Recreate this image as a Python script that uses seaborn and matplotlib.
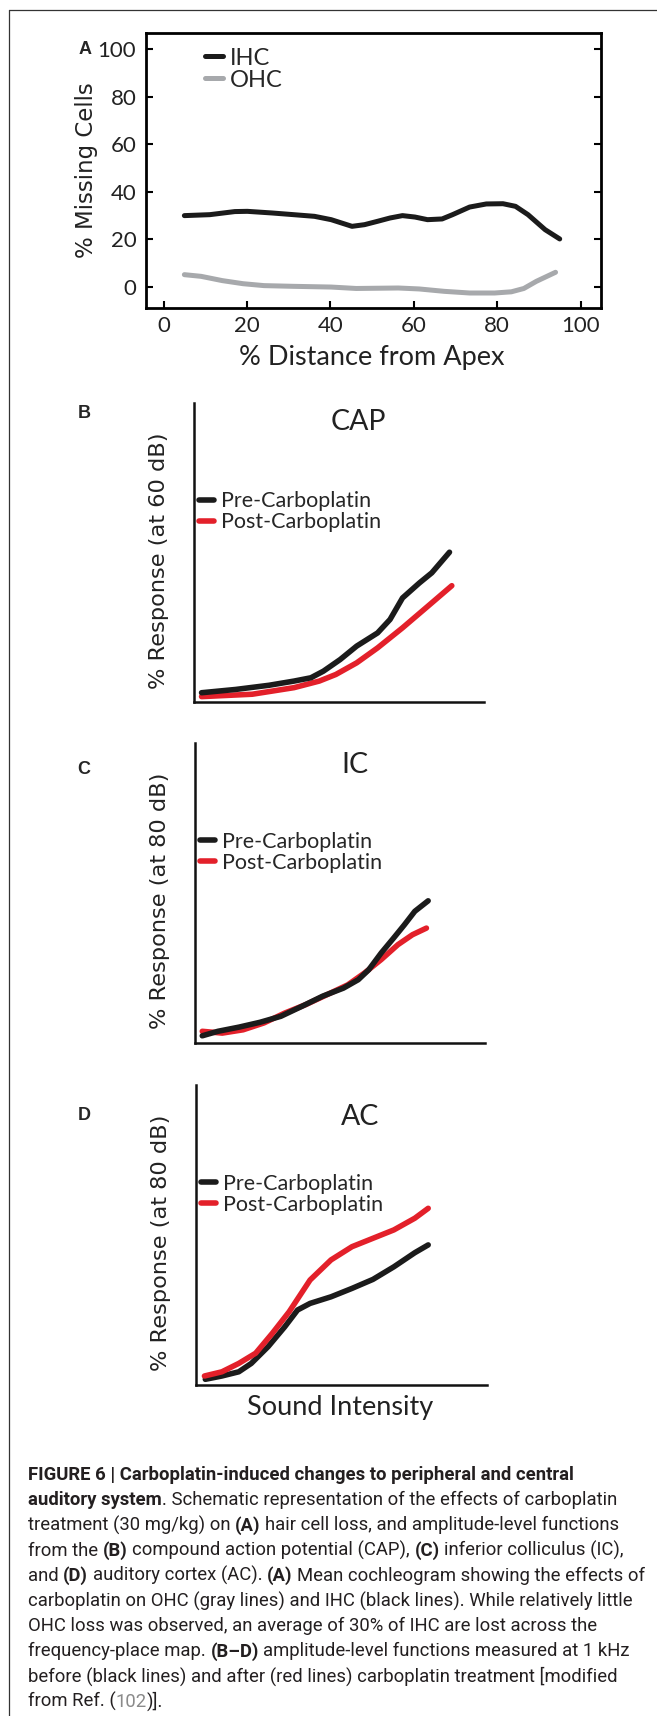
import matplotlib
matplotlib.use("Agg")
import matplotlib.pyplot as plt
import seaborn as sns
import pandas as pd

W, H, DPI = 657, 1716, 100

# ---- panel A: cochleogram ----
apex_ticks = [0, 20, 40, 60, 80, 100]
ihc_x = [5.0, 11.1, 17.1, 20.1, 26.1, 31.2, 36.2, 40.2, 45.2, 48.2, 51.3, 54.3,
         57.3, 60.3, 63.3, 66.8, 69.3, 73.4, 77.4, 81.4, 84.4, 87.4, 91.5, 95.0]
ihc_missing = [30.0, 30.4, 31.7, 31.8, 31.1, 30.4, 29.7, 28.3, 25.5, 26.2, 27.6, 29.0,
               30.0, 29.4, 28.3, 28.6, 30.4, 33.6, 34.9, 35.0, 33.9, 30.4, 24.1, 20.2]
ohc_x = [5.0, 9.0, 14.1, 19.1, 24.1, 31.2, 40.2, 46.2, 56.3, 61.3, 67.3, 73.4,
         79.4, 83.4, 86.4, 89.4, 94.0]
ohc_missing = [5.2, 4.5, 2.7, 1.4, 0.6, 0.3, 0.0, -0.6, -0.4, -0.8, -1.8, -2.5,
               -2.5, -2.0, -0.6, 2.4, 6.2]

# ---- panels B-D: amplitude-level functions (schematic units) ----
cap_pre_x = [2.6, 14.4, 25.9, 34.5, 40.3, 44.6, 50.4, 56.1, 63.3, 67.6, 71.9, 77.7, 82.0, 88.1]
cap_pre = [3.1, 4.2, 5.6, 7.0, 8.1, 10.3, 14.2, 18.7, 23.1, 27.6, 34.8, 39.8, 43.2, 50.1]
cap_post_x = [2.6, 20.1, 34.5, 43.2, 48.9, 56.1, 63.3, 71.9, 80.6, 88.9]
cap_post = [1.8, 2.6, 4.8, 7.0, 9.2, 13.1, 18.1, 24.8, 32.0, 38.9]

ic_pre_x = [2.5, 7.9, 15.2, 22.4, 29.6, 36.8, 44.0, 51.2, 56.3, 59.9, 64.2, 68.5, 72.2, 75.8, 80.4]
ic_pre = [2.4, 3.9, 5.3, 6.9, 8.9, 12.2, 15.6, 18.3, 21.1, 24.4, 30.0, 35.0, 39.4, 43.9, 47.4]
ic_post_x = [2.5, 9.4, 16.6, 23.8, 31.0, 38.2, 45.5, 52.7, 58.4, 64.2, 70.0, 75.0, 79.8]
ic_post = [3.9, 3.3, 4.4, 6.7, 10.0, 12.8, 16.1, 19.4, 23.3, 27.8, 32.8, 36.1, 38.3]

ac_pre_x = [3.2, 8.9, 14.7, 19.0, 24.8, 30.5, 34.9, 39.2, 46.4, 53.6, 60.8, 68.0, 75.2, 79.8]
ac_pre = [1.9, 3.0, 4.4, 7.2, 12.8, 19.4, 25.0, 27.2, 29.4, 32.2, 35.2, 39.4, 44.1, 46.7]
ac_post_x = [2.9, 8.9, 14.7, 20.5, 26.2, 32.0, 39.2, 46.4, 53.6, 60.8, 68.0, 75.2, 79.8]
ac_post = [3.0, 4.4, 7.2, 10.6, 17.2, 24.4, 35.0, 41.7, 46.1, 48.9, 51.7, 55.6, 58.9]

BLACK = "#1b1b1b"
GRAY = "#a7a9ac"
RED = "#e3202a"

sns.set_theme(style="white")
plt.rcParams['font.family'] = ['Lato', 'DejaVu Sans']

fig = plt.figure(figsize=(W / DPI, H / DPI), dpi=DPI)


def add_ax(left, top, right, bottom):
    return fig.add_axes([left / W, 1 - bottom / H, (right - left) / W, (bottom - top) / H])


def label(x, y, s, **kw):
    kw.setdefault("ha", "center")
    kw.setdefault("va", "center")
    return fig.text(x / W, 1 - y / H, s, **kw)


# frame around the figure (top and left edges visible)
fig.add_artist(plt.Line2D([9 / W, 9 / W], [0, 1 - 10 / H], color="#333333", lw=0.9))
fig.add_artist(plt.Line2D([9 / W, 1], [1 - 10 / H, 1 - 10 / H], color="#333333", lw=0.9))

# =========================================================================
# Panel A
# =========================================================================
axA = add_ax(146, 33, 601, 308)
sns.lineplot(x=ihc_x, y=ihc_missing, color=BLACK, lw=3.6, label="IHC", ax=axA)
sns.lineplot(x=ohc_x, y=ohc_missing, color=GRAY, lw=3.6, label="OHC", ax=axA)
axA.set_xlim(-4.2, 104.9)
axA.set_ylim(-8.8, 106.7)
axA.set_xticks(apex_ticks)
axA.set_yticks(apex_ticks)
axA.tick_params(axis="both", direction="in", length=5, width=1.5, color="black",
                labelsize=16, labelcolor="#222222")
axA.tick_params(axis="y", left=True, right=True, pad=7)
axA.tick_params(axis="x", bottom=True, top=False, pad=6)
for sp in axA.spines.values():
    sp.set_linewidth(2.0)
    sp.set_color("black")
axA.legend(loc="upper left", bbox_to_anchor=(0.13, 0.947), frameon=False, fontsize=17,
           handlelength=0.75, handletextpad=0.28, labelspacing=0.05,
           borderpad=0, borderaxespad=0)

label(85, 50, "A", fontsize=13, fontweight="bold", family=["Liberation Sans", "DejaVu Sans"])
label(86, 170, "% Missing Cells", rotation=90, fontsize=16.5, family=["DejaVu Sans"], color="#222222")
label(372, 357, "% Distance from Apex", fontsize=19.5, color="#222222")

# =========================================================================
# Panels B-D
# =========================================================================
panels = [
    dict(box=(194, 403, 484, 702), letter="B", letter_y=413, title="CAP", title_xy=(358, 422),
         ylab="% Response (at 60 dB)", ylab_xy=(159, 561),
         pre=(cap_pre_x, cap_pre), post=(cap_post_x, cap_post), red_top=False),
    dict(box=(195, 743, 485, 1043), letter="C", letter_y=770, title="IC", title_xy=(355, 765),
         ylab="% Response (at 80 dB)", ylab_xy=(160, 901),
         pre=(ic_pre_x, ic_pre), post=(ic_post_x, ic_post), red_top=False),
    dict(box=(196, 1085, 487, 1385), letter="D", letter_y=1115, title="AC", title_xy=(360, 1117),
         ylab="% Response (at 80 dB)", ylab_xy=(161, 1243),
         pre=(ac_pre_x, ac_pre), post=(ac_post_x, ac_post), red_top=True),
]

for p in panels:
    ax = add_ax(*p["box"])
    pre = pd.DataFrame({"Intensity": p["pre"][0], "Response": p["pre"][1]})
    post = pd.DataFrame({"Intensity": p["post"][0], "Response": p["post"][1]})
    z_pre, z_post = (2, 3) if p["red_top"] else (3, 2)
    sns.lineplot(data=pre, x="Intensity", y="Response", color=BLACK, lw=4,
                 label="Pre-Carboplatin", zorder=z_pre, ax=ax)
    sns.lineplot(data=post, x="Intensity", y="Response", color=RED, lw=4,
                 label="Post-Carboplatin", zorder=z_post, ax=ax)
    ax.set_xlim(0, 100)
    ax.set_ylim(0, 100)
    ax.set_xticks([])
    ax.set_yticks([])
    ax.set_xlabel("")
    ax.set_ylabel("")
    sns.despine(ax=ax)
    for side in ["left", "bottom"]:
        ax.spines[side].set_linewidth(1.8)
        ax.spines[side].set_color("#111111")
    leg = ax.legend(loc="upper left", bbox_to_anchor=(0.017, 0.705), frameon=False,
                    fontsize=15.5, handlelength=0.7, handletextpad=0.33, labelspacing=0.05,
                    borderpad=0, borderaxespad=0)
    for h in leg.get_lines():
        h.set_linewidth(4)

    label(84, p["letter_y"], p["letter"], fontsize=13, fontweight="bold",
          family=["Liberation Sans", "DejaVu Sans"])
    label(*p["title_xy"], p["title"], fontsize=20.5, color="#222222")
    label(*p["ylab_xy"], p["ylab"], rotation=90, fontsize=16.2, family=["DejaVu Sans"], color="#222222")

label(340, 1408, "Sound Intensity", fontsize=19.5, color="#222222")

# =========================================================================
# Caption
# =========================================================================
CAP_FONT = ["Roboto", "DejaVu Sans"]
CAP_SIZE = 13.3
TXT = "#231f20"
LINK = "#8a8a8a"
caption = [
    [("FIGURE 6 | Carboplatin-induced changes to peripheral and central", "bold", TXT)],
    [("auditory system", "bold", TXT), (". Schematic representation of the effects of carboplatin", "normal", TXT)],
    [("treatment (30 mg/kg) on ", "normal", TXT), ("(A)", "bold", TXT),
     (" hair cell loss, and amplitude-level functions", "normal", TXT)],
    [("from the ", "normal", TXT), ("(B)", "bold", TXT), (" compound action potential (CAP), ", "normal", TXT),
     ("(C)", "bold", TXT), (" inferior colliculus (IC),", "normal", TXT)],
    [("and ", "normal", TXT), ("(D)", "bold", TXT), (" auditory cortex (AC). ", "normal", TXT),
     ("(A)", "bold", TXT), (" Mean cochleogram showing the effects of", "normal", TXT)],
    [("carboplatin on OHC (gray lines) and IHC (black lines). While relatively little", "normal", TXT)],
    [("OHC loss was observed, an average of 30% of IHC are lost across the", "normal", TXT)],
    [("frequency-place map. ", "normal", TXT), ("(B\u2013D)", "bold", TXT),
     (" amplitude-level functions measured at 1 kHz", "normal", TXT)],
    [("before (black lines) and after (red lines) carboplatin treatment [modified", "normal", TXT)],
    [("from Ref. (", "normal", TXT), ("102", "normal", LINK), (")].", "normal", TXT)],
]

renderer = fig.canvas.get_renderer()


def text_width(s, weight):
    t = fig.text(0, 0, s, fontsize=CAP_SIZE, fontweight=weight, family=CAP_FONT)
    w = t.get_window_extent(renderer).width
    t.remove()
    return w


space_w = {wt: text_width("x x", wt) - text_width("xx", wt) for wt in ["normal", "bold"]}

y = 1475
for parts in caption:
    x = 28
    for s, weight, color in parts:
        lead = len(s) - len(s.lstrip(" "))
        trail = len(s) - len(s.rstrip(" "))
        core = s.strip(" ")
        x += lead * space_w[weight]
        t = label(x, y, core, ha="left", fontsize=CAP_SIZE, fontweight=weight,
                  color=color, family=CAP_FONT)
        x += t.get_window_extent(renderer).width + trail * space_w[weight]
    y += 25.2

fig.savefig("out.png", dpi=DPI)
